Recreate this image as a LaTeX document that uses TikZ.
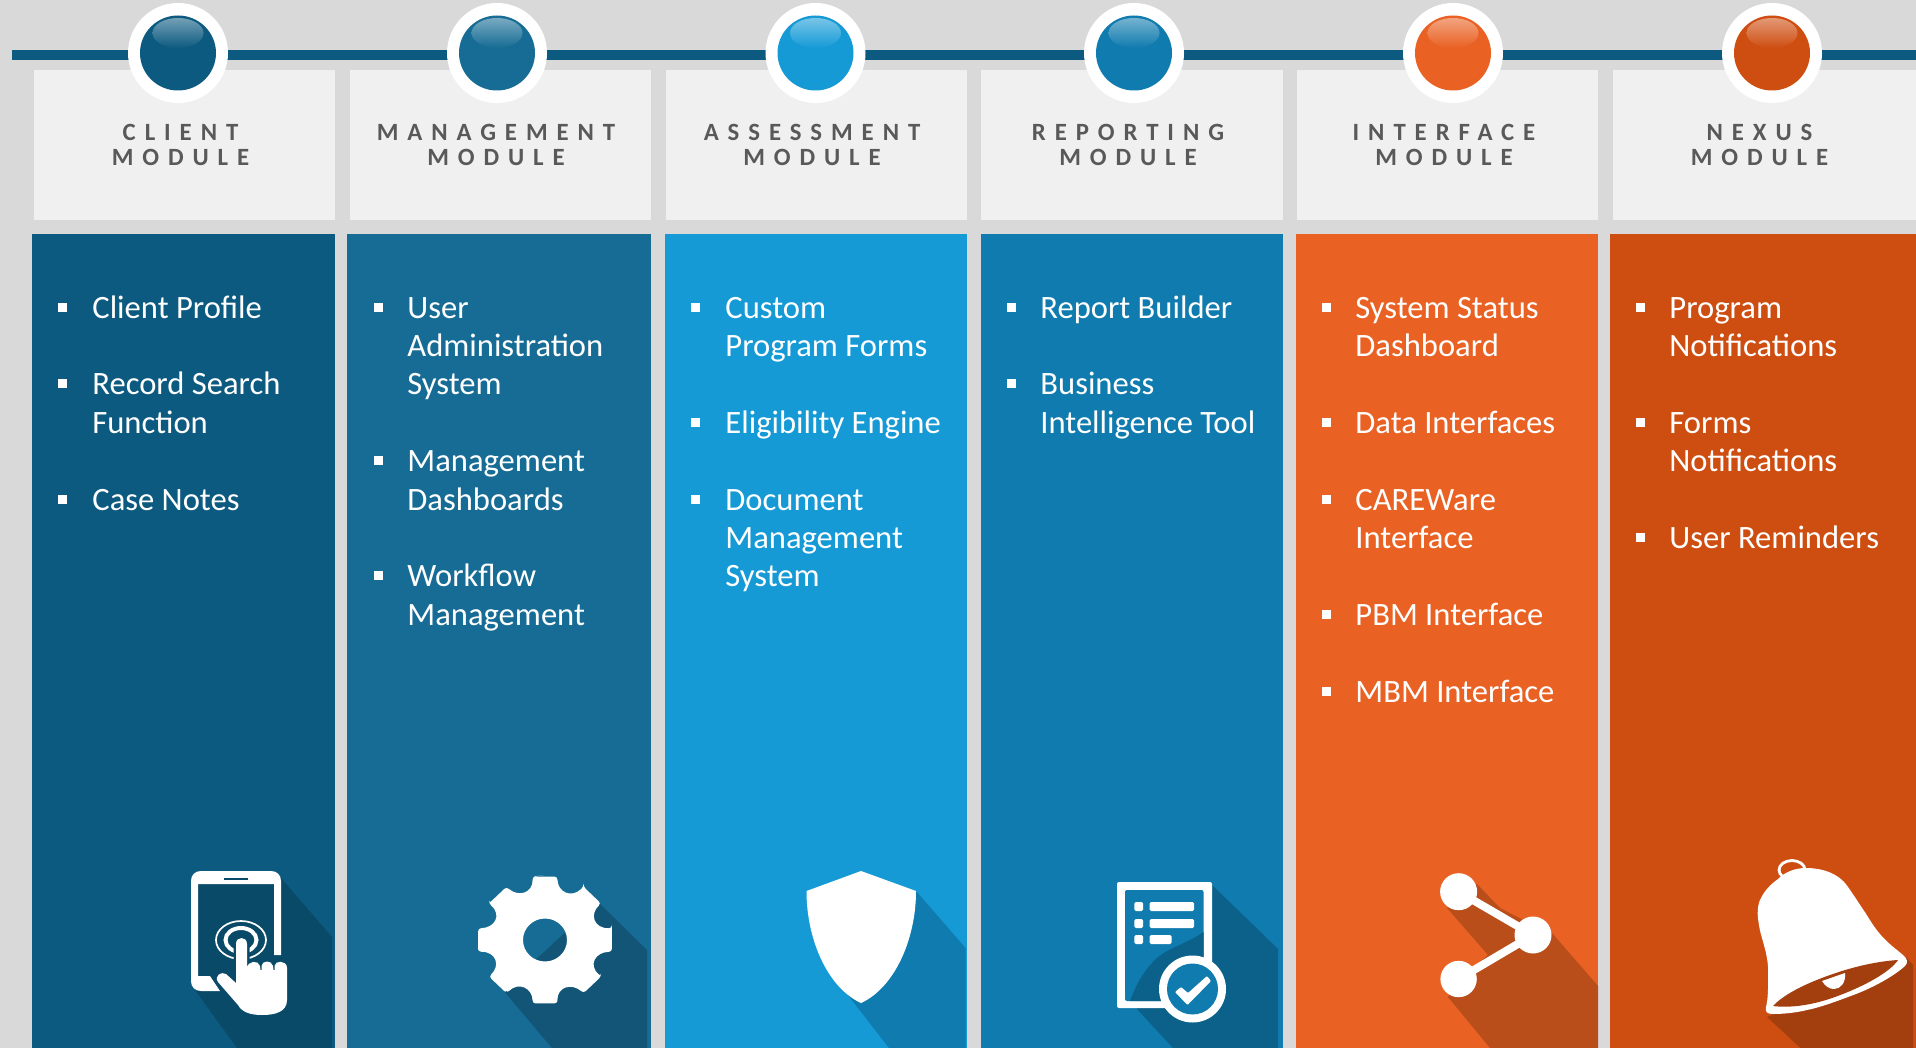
\documentclass[tikz,border=0pt]{standalone}
\usepackage{fontspec}
\setmainfont{Carlito}
\newfontfamily\headfont[LetterSpace=36]{Carlito}
\def\px{0.5pt}
\definecolor{bgc}{HTML}{D9D9D9}
\definecolor{headc}{HTML}{F0F0F0}
\definecolor{headtxt}{HTML}{595959}
\definecolor{ca}{HTML}{0D5A80}
\definecolor{cb}{HTML}{166C94}
\definecolor{cc}{HTML}{159AD6}
\definecolor{cd}{HTML}{107BAE}
\definecolor{ce}{HTML}{E96123}
\definecolor{cf}{HTML}{CE4E12}
\definecolor{sa}{HTML}{0A4A69}
\definecolor{sb}{HTML}{125577}
\definecolor{sc}{HTML}{107BAE}
\definecolor{sd}{HTML}{0B6189}
\definecolor{se}{HTML}{B94E1B}
\definecolor{sf}{HTML}{A33E0F}
\tikzset{
  headbox/.style={fill=headc,draw=none},
  headtext/.style={font=\headfont\bfseries\fontsize{12.4}{12.5}\selectfont,text=headtxt,anchor=base,inner sep=0pt},
  bodytext/.style={font=\fontsize{16.3}{19.2}\selectfont,text=white,anchor=base west,inner sep=0pt},
  bulletbox/.style={fill=white,draw=none,minimum size=9*\px,inner sep=0pt,rectangle},
  icon/.style={fill=white,draw=none},
}
\newcommand{\modpanel}[8]{%
  % #1 header x0, #2 panel x0, #3 x1, #4 colour, #5 name, #6 head line 1, #7 head text x
  \fill[headbox] (#1,70) rectangle (#3,220);
  \fill[#4] (#2,234) rectangle (#3,1048);
  \node[headtext] (head#5) at (#7,141) {\begin{tabular}[t]{@{}c@{}}#6\\MODULE\end{tabular}};
}
\newcommand{\orb}[3]{%
  \node[circle,fill=white,minimum size=100*\px,inner sep=0pt] (orb#3) at (#1,53) {};
  \fill[#2] (#1,53) ellipse [x radius=38,y radius=37.5];
  \shade[top color=#2!58!white,bottom color=#2] (#1,33) ellipse [x radius=25.5,y radius=15];
}
\newcommand{\moditem}[5]{%
  \node[bulletbox] (b#1) at (#2,{307+38.4*#4}) {};
  \node[bodytext] (t#1) at (#3,{318+38.4*#4}) {\begin{tabular}[t]{@{}l@{}}#5\end{tabular}};
}
\begin{document}
\begin{tikzpicture}[x=0.5pt,y=-0.5pt]
\useasboundingbox (0,0) rectangle (1916,1048);
\fill[bgc] (0,0) rectangle (1916,1048);
% timeline
\coordinate (linestart) at (12,55);
\coordinate (lineend) at (1916,55);
\draw[ca,line width=10*\px] (linestart) -- (lineend);
% panels
\modpanel{34}{32}{335}{ca}{a}{CLIENT}{180.5}{}
\modpanel{350}{347}{651}{cb}{b}{MANAGEMENT}{496}{}
\modpanel{666}{665}{967}{cc}{c}{ASSESSMENT}{812}{}
\modpanel{981}{981}{1283}{cd}{d}{REPORTING}{1128}{}
\modpanel{1297}{1296}{1598}{ce}{e}{INTERFACE}{1444}{}
\modpanel{1613}{1610}{1916}{cf}{f}{NEXUS}{1759.5}{}
% orbs
\orb{178}{ca}{a}
\orb{497}{cb}{b}
\orb{815.5}{cc}{c}
\orb{1134}{cd}{d}
\orb{1453}{ce}{e}
\orb{1772}{cf}{f}
% items
\moditem{a1}{62}{92}{0}{Client Profile}
\moditem{a2}{62}{92}{2}{Record Search\\Function}
\moditem{a3}{62}{92}{5}{Case Notes}
\moditem{b1}{378}{407}{0}{User\\Administration\\System}
\moditem{b2}{378}{407}{4}{Management\\Dashboards}
\moditem{b3}{378}{407}{7}{Workflow\\Management}
\moditem{c1}{695}{725}{0}{Custom\\Program Forms}
\moditem{c2}{695}{725}{3}{Eligibility Engine}
\moditem{c3}{695}{725}{5}{Document\\Management\\System}
\moditem{d1}{1011}{1040}{0}{Report Builder}
\moditem{d2}{1011}{1040}{2}{Business\\Intelligence Tool}
\moditem{e1}{1326}{1355}{0}{System Status\\Dashboard}
\moditem{e2}{1326}{1355}{3}{Data Interfaces}
\moditem{e3}{1326}{1355}{5}{CAREWare\\Interface}
\moditem{e4}{1326}{1355}{8}{PBM Interface}
\moditem{e5}{1326}{1355}{10}{MBM Interface}
\moditem{f1}{1640}{1669}{0}{Program\\Notifications}
\moditem{f2}{1640}{1669}{3}{Forms\\Notifications}
\moditem{f3}{1640}{1669}{6}{User Reminders}
% --- tablet icon
\fill[sa] (281,878) -- (332,937) -- (332,1048) -- (237,1048) -- (195,990) -- cycle;
\fill[sa] (198,884) rectangle (274,976);
\fill[icon] (220,991) -- (201,991) .. controls (195,991) and (191,987) .. (191,981) -- (191,881) .. controls (191,875) and (195,871) .. (201,871) -- (271,871) .. controls (277,871) and (281,875) .. (281,881) -- (281,955) -- (274,955) -- (274,884) -- (198,884) -- (198,976) -- (210,976) -- cycle;
\draw[sa,line width=2*\px] (224,878.5) -- (248,878.5);
\draw[white,line width=1.7*\px] (241,940) ellipse [x radius=25,y radius=19];
\draw[white,line width=4*\px] (241,940) ellipse [x radius=15.5,y radius=12];
\def\handpath{(236,944) .. controls (236,936) and (247,936) .. (247,944) -- (247,969) .. controls (247,960) and (259,960) .. (260,966) -- (260.5,970) -- (261.5,970) -- (261.5,966) .. controls (262,960) and (272,960) .. (273,966) -- (273.5,970) -- (274.5,970) -- (274.5,966) .. controls (275,960) and (287,960) .. (287,968) -- (287,1000) .. controls (287,1012) and (275,1015) .. (262,1015) .. controls (250,1015) and (242,1012) .. (238,1005) -- (218,982) .. controls (214,976) and (221,971) .. (226,974) -- (236,983) -- cycle}
\draw[sa,line width=5*\px] \handpath;
\fill[icon] \handpath;
% --- gear icon
\fill[sb] (598,902) -- (647,950) -- (647,1048) -- (552,1048) -- (503,990) -- cycle;
\fill[icon,even odd rule,rounded corners=3*\px] (545,875)
  \foreach \a in {0,45,...,315} {
    -- ({545+68*sin(\a-10.5)},{940-64.5*cos(\a-10.5)}) -- ({545+68*sin(\a+10.5)},{940-64.5*cos(\a+10.5)})
    .. controls ({545+52*sin(\a+14)},{940-50*cos(\a+14)}) and ({545+50*sin(\a+31)},{940-48*cos(\a+31)}) .. ({545+68*sin(\a+34.5)},{940-64.5*cos(\a+34.5)})
  } -- cycle
  (567,940) arc [start angle=0,end angle=360,x radius=22,y radius=21.5];
% --- shield icon
\fill[sc] (916,891) -- (965.6,948) -- (965.6,1048) -- (889,1048) -- (844,990) -- cycle;
\fill[icon] (861,871) -- (916,891) .. controls (916,940) and (894,988) .. (861,1003) .. controls (828,988) and (806.5,940) .. (806.5,891) -- cycle;
% --- report icon
\fill[sd] (1212,885) -- (1278,949) -- (1278,1048) -- (1173,1048) -- (1137,1009) -- cycle;
\fill[icon,rounded corners=2*\px] (1117,882) rectangle (1212,1008);
\fill[cd,rounded corners=2*\px] (1125,890) rectangle (1203.5,1001);
\fill[sd] (1203.5,932) .. controls (1185,945) and (1165,948) .. (1152,963) .. controls (1142,974) and (1136,985) .. (1130,1001) -- (1203.5,1001) -- cycle;
\foreach \yy in {902,919,935} {
  \fill[icon,rounded corners=1.5*\px] (1134.3,\yy) rectangle (1143,\yy+9);
}
\fill[icon,rounded corners=1.5*\px] (1149.5,902) rectangle (1194,911);
\fill[icon,rounded corners=1.5*\px] (1149.5,919) rectangle (1194,928);
\fill[icon,rounded corners=1.5*\px] (1149.5,935) rectangle (1171.5,944);
\fill[icon] (1192.5,989) circle [radius=33.5];
\fill[cd] (1192.5,989) circle [radius=25.5];
\fill[icon,rounded corners=1*\px] (1175,992) -- (1181,987) -- (1188,993) -- (1207,976) -- (1211,981) -- (1187.5,1005) -- cycle;
% --- share icon
\fill[se] (1477,884) -- (1500,908) -- (1533,925) -- (1552,933) -- (1598,986) -- (1598,1048) -- (1490,1048) -- (1448,997) -- (1459,979) -- (1488,955) -- (1447,908) -- cycle;
\coordinate (shareA) at (1458.6,891.7);
\coordinate (shareB) at (1533,935);
\coordinate (shareC) at (1458.6,979);
\draw[white,line width=8*\px] (shareA) -- (shareB) -- (shareC);
\fill[icon] (shareA) circle [radius=18.5];
\fill[icon] (shareB) circle [radius=18.5];
\fill[icon] (shareC) circle [radius=18.2];
% --- bell icon
\fill[sf] (1906,957) -- (1913,965) -- (1913,1048) -- (1800.5,1048) -- (1767,1017) -- cycle;
\draw[white,line width=2.8*\px] (1792,870) ellipse [x radius=13,y radius=9.5];
\fill[icon] (1778,879) .. controls (1785,872) and (1795,868) .. (1805.6,868) .. controls (1820,868) and (1838,872) .. (1848,887) .. controls (1855,897) and (1860,905) .. (1865.5,913) .. controls (1871,922) and (1876,930) .. (1882.6,937) .. controls (1890,945) and (1896,949) .. (1903,955) .. controls (1908,959) and (1908,963) .. (1905,966) .. controls (1895,975) and (1878,985) .. (1858.6,993) .. controls (1840,1000) and (1822,1007) .. (1807,1010) .. controls (1795,1013) and (1782,1014) .. (1773,1014) .. controls (1767,1014) and (1765,1012) .. (1766,1007) .. controls (1768,1000) and (1768.5,985) .. (1768,967) .. controls (1767,950) and (1760,935) .. (1759,925) .. controls (1757,915) and (1757,905) .. (1761,898) .. controls (1765,890) and (1771,884) .. (1778,879) -- cycle;
\fill[sf] (1773,1006) .. controls (1785,993) and (1810,982) .. (1830,975) .. controls (1855,966) and (1880,961) .. (1898,960) .. controls (1890,972) and (1865,986) .. (1835,997) .. controls (1810,1006) and (1788,1008) .. (1773,1006) -- cycle;
\fill[icon] (1822,981) -- (1845,973) .. controls (1846,982) and (1841,989) .. (1834,989) .. controls (1829,989) and (1825,986) .. (1822,981) -- cycle;
\end{tikzpicture}
\end{document}
